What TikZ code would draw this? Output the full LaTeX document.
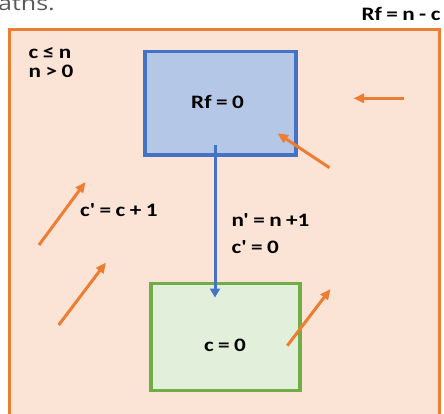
\documentclass[tikz,border=0pt]{standalone}
\usepackage{fontspec}
\setmainfont{Carlito}[FakeStretch=1.22, WordSpace=0.85, Ligatures=TeXOff]
\newfontfamily\pagefont{Open Sans}[FakeStretch=1.25]
\usetikzlibrary{arrows.meta}
\definecolor{orangeline}{HTML}{ED7D31}
\definecolor{orangefill}{HTML}{FBE3D6}
\definecolor{blueline}{HTML}{4472C4}
\definecolor{bluefill}{HTML}{B4C7E7}
\definecolor{greenline}{HTML}{70AD47}
\definecolor{greenfill}{HTML}{E2EFDA}
\definecolor{pagegray}{HTML}{595959}
\tikzset{
  lbl/.style={inner sep=0pt, font=\fontsize{19}{21}\selectfont\bfseries},
  boxline/.style={line width=3.3pt},
  orangearrow/.style={draw=orangeline, line width=3pt, -{Triangle[length=10.5pt,width=9pt]}},
  bluearrow/.style={draw=blueline, line width=3pt, -{Triangle[length=9pt,width=10pt]}},
}
\begin{document}
\begin{tikzpicture}[x=1pt,y=-1pt]
\useasboundingbox (0,0) rectangle (444,413);
% cropped page text
\node[anchor=base west, inner sep=0pt, text=pagegray, font=\pagefont\fontsize{20}{22}\selectfont] (pagetxt) at (-2,10) {aths.};
% outer region
\draw[boxline, draw=orangeline, fill=orangefill] (9.5,29.5) rectangle (439.5,418);
\node[lbl, anchor=base] (rfnc) at (401,20.5) {Rf = n - c};
% boxes
\draw[boxline, draw=blueline, fill=bluefill] (145,51.7) rectangle (296,155) node[pos=0.5] (rf0box) {};
\node[lbl, anchor=base] (rf0) at (217.5,108.3) {Rf = 0};
\draw[boxline, draw=greenline, fill=greenfill] (151,283.5) rectangle (300,390.5) node[pos=0.5] (c0box) {};
\node[lbl, anchor=base] (c0) at (225,351.7) {c = 0};
% labels
\node[lbl, anchor=base west] (cn) at (28.5,58.3) {c ≤ n};
\node[lbl, anchor=base west] (n0) at (28.5,77.3) {n > 0};
\node[lbl, anchor=base west] (cc1) at (80,216.7) {c' = c + 1};
\node[lbl, anchor=base west] (nn1) at (231.5,226) {n' = n +1};
\node[lbl, anchor=base west] (cp0) at (231.5,253.3) {c' = 0};
% blue transition
\coordinate (bs) at (215,145);
\coordinate (be) at (215,297.5);
\draw[bluearrow] (bs) -- (be);
% orange arrows
\coordinate (a1s) at (403.5,98.3); \coordinate (a1e) at (353.5,98.3);
\coordinate (a2s) at (329.5,167.7); \coordinate (a2e) at (277.5,133.3);
\coordinate (a3s) at (39,245); \coordinate (a3e) at (85.5,182);
\coordinate (a4s) at (58.7,325); \coordinate (a4e) at (106,262.5);
\coordinate (a5s) at (287.3,345.7); \coordinate (a5e) at (330.5,289);
\draw[orangearrow] (a1s) -- (a1e);
\draw[orangearrow] (a2s) -- (a2e);
\draw[orangearrow] (a3s) -- (a3e);
\draw[orangearrow] (a4s) -- (a4e);
\draw[orangearrow] (a5s) -- (a5e);
\end{tikzpicture}
\end{document}
